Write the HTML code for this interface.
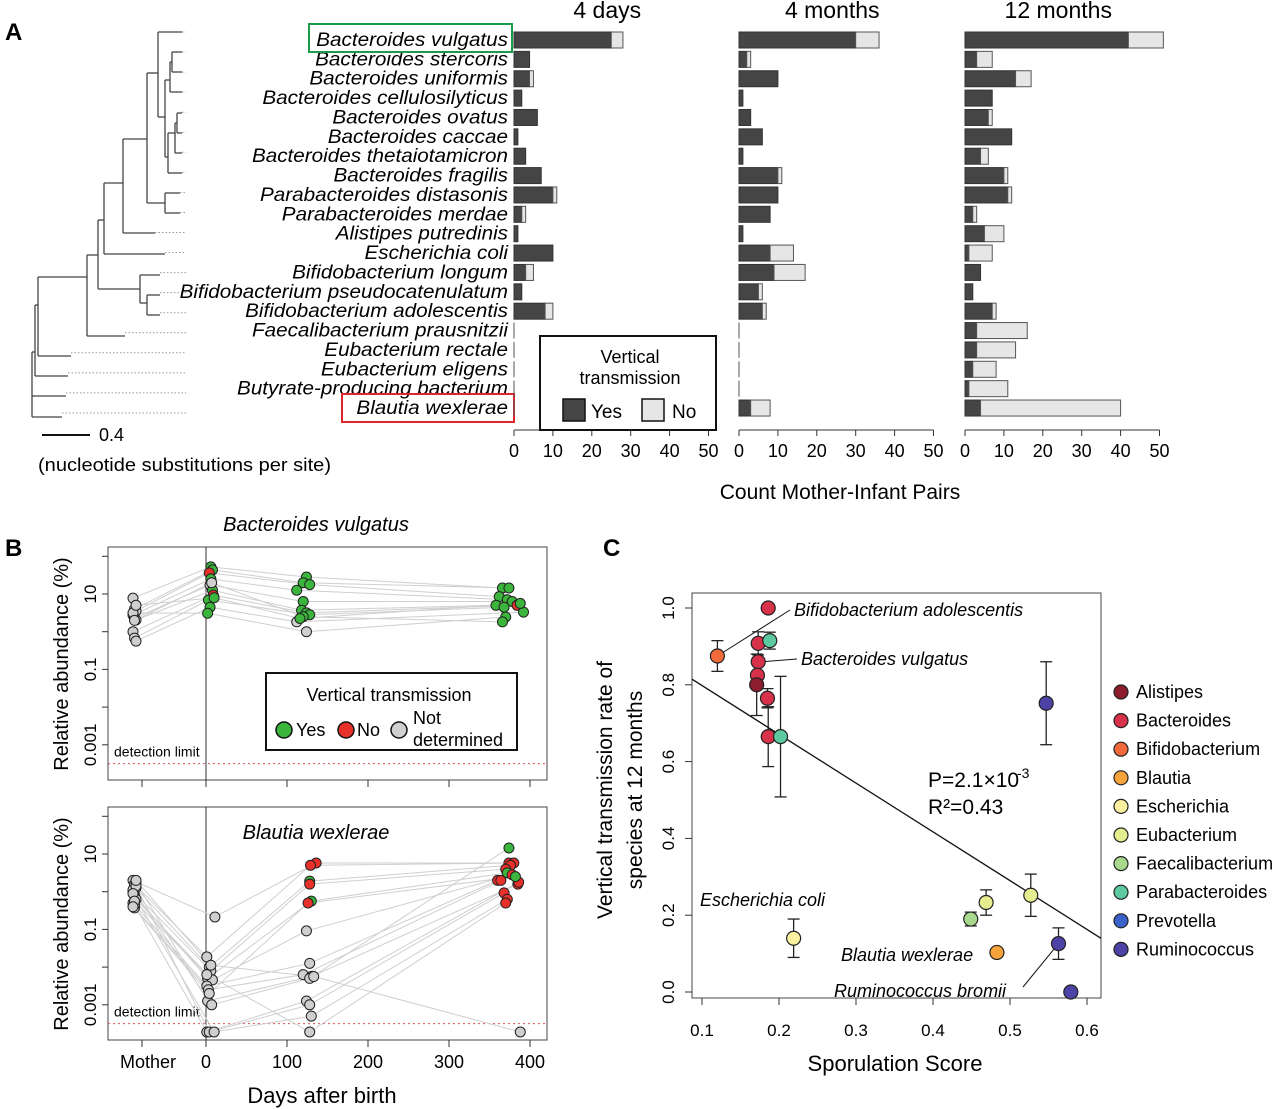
<!DOCTYPE html>
<html><head><meta charset="utf-8"><style>
html,body{margin:0;padding:0;background:#fff}
svg{display:block;font-family:"Liberation Sans",Arial,sans-serif}
</style></head><body>
<svg id="fig" width="1280" height="1109" viewBox="0 0 1280 1109" xmlns="http://www.w3.org/2000/svg">
<g id="panelA"></g>
<g id="panelB"></g>
<g id="panelC"></g>
</svg>
<script>
// ---------- Panel A data ----------
const species = ["Bacteroides vulgatus","Bacteroides stercoris","Bacteroides uniformis","Bacteroides cellulosilyticus","Bacteroides ovatus","Bacteroides caccae","Bacteroides thetaiotamicron","Bacteroides fragilis","Parabacteroides distasonis","Parabacteroides merdae","Alistipes putredinis","Escherichia coli","Bifidobacterium longum","Bifidobacterium pseudocatenulatum","Bifidobacterium adolescentis","Faecalibacterium prausnitzii","Eubacterium rectale","Eubacterium eligens","Butyrate-producing bacterium","Blautia wexlerae"];
const yes4d  = [25,4,4,2,6,1,3,7,10,2,1,10,3,2,8,0,0,0,0,0];
const tot4d  = [28,4,5,2,6,1,3,7,11,3,1,10,5,2,10,0,0,0,0,0];
const yes4m  = [30,2,10,1,3,6,1,10,10,8,1,8,9,5,6,0,0,0,0,3];
const tot4m  = [36,3,10,1,3,6,1,11,10,8,1,14,17,6,7,0,0,0,0,8];
const yes12m = [42,3,13,7,6,12,4,10,11,2,5,1,4,2,7,3,3,2,1,4];
const tot12m = [51,7,17,7,7,12,6,11,12,3,10,7,4,2,8,16,13,8,11,40];
const countTicks = [0,10,20,30,40,50];
const panelTitles = ["4 days","4 months","12 months"];

// ---------- Panel B data ----------
const bTop_mother = [0.89,0.6,0.55,0.44,0.36,0.31,0.0,-0.17,-0.25,0.5,0.3,0.7];
const bTop_d0Days = [6,8,4,6,5,8,9,3,5,2,7,10];
const bTop_d0 = [1.72,1.64,1.56,1.4,1.24,1.1,0.97,0.84,0.65,0.49,1.3,0.9];
const bTop_d0Status = ["y","y","n","y","g","y","n","y","y","y","g","y"];
const bTop_d120Days = [124,120,128,112,120,118,124,128,112,124,120,116];
const bTop_d120 = [1.45,1.3,1.25,1.1,0.8,0.57,0.5,0.45,0.26,0.0,0.4,0.35];
const bTop_d120Status = ["y","y","y","y","y","y","y","y","g","g","y","y"];
const bTop_d370Days = [366,374,362,372,378,358,384,368,392,370,366,388];
const bTop_d370 = [1.16,1.16,0.93,0.85,0.8,0.7,0.7,0.65,0.52,0.39,0.26,0.75];
const bTop_d370Status = ["y","y","y","y","y","y","n","y","y","y","y","y"];

const bBot_mother = [0.3,0.2,0.1,0.0,-0.1,-0.2,-0.3,-0.43,0.25,0.05,-0.35,0.15,-0.05,-0.25,0.3,-0.4];
const bBot_d0Days = [11,1,4,6,2,8,1,3,2,7,1,4,10,1,6,4];
const bBot_d0 = [-0.67,-1.73,-2.0,-2.1,-2.3,-2.34,-2.5,-2.6,-2.9,-3.0,-3.72,-3.72,-3.72,-2.2,-1.95,-2.7];
const bBot_d120Days = [136,129,128,128,130,124,128,120,130,128,124,128,130,128,133,126];
const bBot_d120 = [0.76,0.7,0.28,0.2,-0.25,-1.04,-1.9,-2.2,-2.25,-2.3,-2.9,-3.0,-3.3,-3.72,-2.25,-0.3];
const bBot_d120Status = ["n","n","y","n","y","g","g","g","g","g","g","g","g","g","g","n"];
const bBot_d370Days = [374,380,376,370,372,378,360,364,385,374,386,368,372,370,388,382];
const bBot_d370 = [0.76,0.76,0.7,0.6,0.5,0.45,0.3,0.3,0.2,1.16,0.25,-0.03,-0.2,-0.3,-3.72,0.4];
const bBot_d370Status = ["n","n","n","n","y","n","n","n","n","y","n","n","n","n","g","y"];
const dayTicks = [0,100,200,300,400];
const logTicks = [1,-1,-3];
const logTickLabels = ["10","0.1","0.001"];

// ---------- Panel C data ----------
const cGenus = ["Bifidobacterium","Bacteroides","Bacteroides","Parabacteroides","Bacteroides","Bacteroides","Alistipes","Bacteroides","Bacteroides","Parabacteroides","Escherichia","Faecalibacterium","Eubacterium","Eubacterium","Blautia","Ruminococcus","Ruminococcus","Ruminococcus"];
const cSpor = [0.12,0.186,0.173,0.188,0.173,0.172,0.171,0.185,0.186,0.202,0.219,0.449,0.469,0.527,0.483,0.547,0.563,0.579];
const cRate = [0.875,1.0,0.908,0.915,0.86,0.825,0.80,0.765,0.665,0.665,0.14,0.19,0.233,0.252,0.103,0.752,0.126,0.0];
const cErr  = [0.04,0,0.03,0.022,0,0,0.08,0.025,0.078,0.157,0.05,0.018,0.033,0.055,0,0.108,0.041,0];
const cXTicks = [0.1,0.2,0.3,0.4,0.5,0.6];
const cYTicks = [0.0,0.2,0.4,0.6,0.8,1.0];
const legendGenera = ["Alistipes","Bacteroides","Bifidobacterium","Blautia","Escherichia","Eubacterium","Faecalibacterium","Parabacteroides","Prevotella","Ruminococcus"];
const legendColors = ["#8c1d2c","#d8324a","#f06a3b","#f5a33a","#fbf0a0","#e4ed8f","#a8d88b","#5cc9a0","#3b62c9","#4d43a6"];
const fitSlope = -1.27, fitIntercept = 0.925;

const NS="http://www.w3.org/2000/svg";
function el(parent,tag,attrs,text){const e=document.createElementNS(NS,tag);for(const k in attrs)e.setAttribute(k,attrs[k]);if(text!==undefined)e.textContent=text;parent.appendChild(e);return e;}

// ================= Panel A =================
const A=document.getElementById('panelA');
let t=el(A,'text',{x:5,y:40,'font-size':24,'font-weight':'bold'},'A');

const rowY=i=>40+i*19.37;
const leafY=i=>32+i*20.05;
const tree=el(A,'g',{stroke:'#444','stroke-width':1.3,fill:'none'});

const segs=[
 [32,352,32,417],[32,417,62,417],[32,396,66,396],[32,352,35,352],
 [35,305,35,376],[35,376,68,376],[35,305,38,305],
 [38,277,38,356],[38,356,71,356],[38,277,87,277],
 [87,255,87,336],[87,336,125,336],[87,255,98,255],
 [98,220,98,289],[98,289,140,289],[140,275,140,303],[140,275,160,275],[140,303,147,303],[147,295,147,315],[147,295,160,295],[147,315,160,315],
 [98,220,104,220],[104,183,104,254],[104,254,165,254],[104,183,123,183],
 [123,139,123,233],[123,233,155,233],[123,139,147,139],
 [147,73,147,203],[147,203,165,203],[165,193,165,213],[165,193,180,193],[165,213,180,213],
 [147,73,158,73],[158,32,158,117],[158,32,182,32],[158,117,165,117],
 [165,80,165,157],[165,80,170,80],[170,62,170,92],[170,92,182,92],[170,62,172,62],[172,52,172,72],[172,52,182,52],[172,72,182,72],
 [165,157,168,157],[168,133,168,173],[168,173,182,173],[168,133,175,133],[175,123,175,153],[175,153,182,153],[175,123,177,123],[177,113,177,133],[177,113,182,113],[177,133,182,133]
];
segs.forEach(s=>el(tree,'line',{x1:s[0],y1:s[1],x2:s[2],y2:s[3]}));
const leafEnds=[182,182,182,182,182,182,182,182,180,180,155,165,160,160,160,125,71,68,66,62];
const dots=el(A,'g',{stroke:'#999','stroke-width':1,'stroke-dasharray':'1.5,2'});
leafEnds.forEach((x,i)=>el(dots,'line',{x1:x,y1:leafY(i),x2:186,y2:leafY(i)}));
el(A,'line',{x1:42,y1:435,x2:90,y2:435,stroke:'#111','stroke-width':2});
el(A,'text',{x:99,y:441,'font-size':18},'0.4');
el(A,'text',{x:38,y:471,'font-size':18,textLength:293,lengthAdjust:'spacingAndGlyphs'},'(nucleotide substitutions per site)');
species.forEach((s,i)=>{
  const tx=el(A,'text',{x:508,y:rowY(i)+6,'font-size':19.5,'font-style':'italic','text-anchor':'end',transform:`translate(508,0) scale(1.06,1) translate(-508,0)`},s);
  
});
el(A,'rect',{x:309,y:24,width:203,height:28,fill:'none',stroke:'#1a9a4a','stroke-width':2});
el(A,'rect',{x:342,y:394,width:172,height:28,fill:'none',stroke:'#e0262a','stroke-width':2});
const bx0=[514,739,965], bpu=3.89;
const yesArr=[yes4d,yes4m,yes12m], totArr=[tot4d,tot4m,tot12m];
for(let p=0;p<3;p++){
  const g=el(A,'g',{});
  
  const xs=v=>bx0[p]+v*bpu;
  el(g,'text',{x:xs(25)-4,y:18,'font-size':23,'text-anchor':'middle'},panelTitles[p]);
  species.forEach((s,i)=>{
    const y=rowY(i)-8;
    const tot=totArr[p][i], yv=yesArr[p][i];
    if(tot===0){el(g,'line',{x1:xs(0),y1:y,x2:xs(0),y2:y+16,stroke:'#555','stroke-width':1});return;}
    const r1=el(g,'rect',{x:xs(0),y:y,width:yv*bpu,height:16,fill:'#454545',stroke:'#333','stroke-width':1});
    
    if(tot>yv){const r2=el(g,'rect',{x:xs(yv),y:y,width:(tot-yv)*bpu,height:16,fill:'#e6e6e6',stroke:'#555','stroke-width':1});
      }
  });
  el(g,'line',{x1:xs(0),y1:430,x2:xs(50),y2:430,stroke:'#333'});
  countTicks.forEach(v=>{el(g,'line',{x1:xs(v),y1:430,x2:xs(v),y2:436,stroke:'#333'});
    el(g,'text',{x:xs(v),y:457,'font-size':18,'text-anchor':'middle'},String(v));});
}
el(A,'text',{x:840,y:499,'font-size':21,'text-anchor':'middle'},'Count Mother-Infant Pairs');
const lgA=el(A,'g',{});
el(lgA,'rect',{x:540,y:336,width:176,height:94,fill:'#fff',stroke:'#111','stroke-width':2});
el(lgA,'text',{x:630,y:363,'font-size':18,'text-anchor':'middle'},'Vertical');
el(lgA,'text',{x:630,y:384,'font-size':18,'text-anchor':'middle'},'transmission');
el(lgA,'rect',{x:563,y:399,width:22,height:22,fill:'#454545',stroke:'#111','stroke-width':1.5});
el(lgA,'text',{x:591,y:418,'font-size':19},'Yes');
el(lgA,'rect',{x:642,y:399,width:22,height:22,fill:'#e6e6e6',stroke:'#111','stroke-width':1.5});
el(lgA,'text',{x:672,y:418,'font-size':19},'No');

// ================= Panel B =================
const B=document.getElementById('panelB');
el(B,'text',{x:5,y:556,'font-size':24,'font-weight':'bold'},'B');
const statusColor={y:'#3cb53c',n:'#e8302a',g:'#cfcfcf'};
const dayX=d=>206+d*0.81;
function drawB(top,title,italicInside,mother,d0d,d0,d0s,d120d,d120,d120s,d370d,d370,d370s,name){
  const y10=top+47; const yL=v=>y10-(v-1)*37.7;
  const g=el(B,'g',{});
  const bottom=top+233;
  el(g,'rect',{x:108,y:top,width:439,height:233,fill:'none',stroke:'#444','stroke-width':1});
  el(g,'line',{x1:206,y1:top,x2:206,y2:bottom,stroke:'#333'});
  el(g,'line',{x1:108,y1:yL(-3.5),x2:547,y2:yL(-3.5),stroke:'#e05050','stroke-dasharray':'2,3'});
  el(g,'text',{x:114,y:yL(-3.5)-7,'font-size':14},'detection limit');
  for(let k=2;k>=-3;k--){el(g,'line',{x1:102,y1:yL(k),x2:108,y2:yL(k),stroke:'#333'});}
  logTicks.forEach((v,i)=>{el(g,'text',{transform:`translate(96,${yL(v)}) rotate(-90)`,'font-size':17,'text-anchor':'middle'},logTickLabels[i]);});
  el(g,'text',{transform:`translate(68,${top+117}) rotate(-90)`,'font-size':20,'text-anchor':'middle'},'Relative abundance (%)');
  [142].concat(dayTicks.map(dayX)).forEach(x=>el(g,'line',{x1:x,y1:bottom,x2:x,y2:bottom+7,stroke:'#333'}));
  if(italicInside) el(g,'text',{x:316,y:top+32,'font-size':20,'font-style':'italic','text-anchor':'middle'},title);
  const lines=el(g,'g',{stroke:'#cfcfcf','stroke-width':1,fill:'none'});
  const pts=el(g,'g',{stroke:'#222','stroke-width':1});
  mother.forEach((m,i)=>{
    const mx=133+(i%3)*1.5;
    const p=[[mx,yL(m)],[dayX(d0d[i]),yL(d0[i])],[dayX(d120d[i]),yL(d120[i])],[dayX(d370d[i]),yL(d370[i])]];
    el(lines,'polyline',{points:p.map(q=>q.join(',')).join(' ')});
  });
  const dot=(x,y,c)=>{const c1=el(pts,'circle',{cx:x,cy:y,r:5,fill:c});};
  mother.forEach((m,i)=>dot(133+(i%3)*1.5,yL(m),statusColor.g));
  d0.forEach((v,i)=>dot(dayX(d0d[i]),yL(v),statusColor[d0s?d0s[i]:'g']));
  d120.forEach((v,i)=>dot(dayX(d120d[i]),yL(v),statusColor[d120s[i]]));
  d370.forEach((v,i)=>dot(dayX(d370d[i]),yL(v),statusColor[d370s[i]]));
}
el(B,'text',{x:316,y:531,'font-size':20,'font-style':'italic','text-anchor':'middle'},'Bacteroides vulgatus');
drawB(547,'Bacteroides vulgatus',false,bTop_mother,bTop_d0Days,bTop_d0,bTop_d0Status,bTop_d120Days,bTop_d120,bTop_d120Status,bTop_d370Days,bTop_d370,bTop_d370Status,'plot-bacteroides-vulgatus');
drawB(807,'Blautia wexlerae',true,bBot_mother,bBot_d0Days,bBot_d0,null,bBot_d120Days,bBot_d120,bBot_d120Status,bBot_d370Days,bBot_d370,bBot_d370Status,'plot-blautia-wexlerae');
el(B,'text',{x:148,y:1068,'font-size':18,'text-anchor':'middle'},'Mother');
dayTicks.forEach(d=>el(B,'text',{x:dayX(d),y:1068,'font-size':18,'text-anchor':'middle'},String(d)));
el(B,'text',{x:322,y:1103,'font-size':22,'text-anchor':'middle'},'Days after birth');
const lgB=el(B,'g',{});
el(lgB,'rect',{x:266,y:673,width:251,height:77,fill:'#fff',stroke:'#111','stroke-width':2});
el(lgB,'text',{x:389,y:701,'font-size':18,'text-anchor':'middle'},'Vertical transmission');
el(lgB,'circle',{cx:284,cy:730,r:8,fill:'#3cb53c',stroke:'#111','stroke-width':1.5});
el(lgB,'text',{x:296,y:736,'font-size':18},'Yes');
el(lgB,'circle',{cx:346,cy:730,r:8,fill:'#e8302a',stroke:'#111','stroke-width':1.5});
el(lgB,'text',{x:357,y:736,'font-size':18},'No');
el(lgB,'circle',{cx:399,cy:730,r:8,fill:'#cfcfcf',stroke:'#111','stroke-width':1.5});
el(lgB,'text',{x:413,y:724,'font-size':18},'Not');
el(lgB,'text',{x:413,y:746,'font-size':18},'determined');

// ================= Panel C =================
const C=document.getElementById('panelC');
el(C,'text',{x:603,y:556,'font-size':24,'font-weight':'bold'},'C');
const cx=v=>702+(v-0.1)*770, cy=v=>992-v*384;
const gC=el(C,'g',{});
el(gC,'rect',{x:692,y:593,width:409,height:405,fill:'none',stroke:'#444'});
cXTicks.forEach(v=>{el(gC,'line',{x1:cx(v),y1:998,x2:cx(v),y2:1005,stroke:'#333'});
  el(gC,'text',{x:cx(v),y:1036,'font-size':17,'text-anchor':'middle'},v.toFixed(1));});
cYTicks.forEach(v=>{el(gC,'line',{x1:685,y1:cy(v),x2:692,y2:cy(v),stroke:'#333'});
  el(gC,'text',{transform:`translate(674,${cy(v)}) rotate(-90)`,'font-size':17,'text-anchor':'middle'},v.toFixed(1));});
el(C,'text',{x:895,y:1071,'font-size':22,'text-anchor':'middle'},'Sporulation Score');
el(C,'text',{transform:'translate(612,790) rotate(-90)','font-size':21,'text-anchor':'middle'},'Vertical transmission rate of');
el(C,'text',{transform:'translate(642,790) rotate(-90)','font-size':21,'text-anchor':'middle'},'species at 12 months');
const x1f=(692-702)/770+0.1, x2f=(1101-702)/770+0.1;
const fl=el(gC,'line',{x1:692,y1:cy(fitIntercept+fitSlope*x1f),x2:1101,y2:cy(fitIntercept+fitSlope*x2f),stroke:'#111','stroke-width':1.3});

el(gC,'line',{x1:cx(cSpor[0]),y1:cy(cRate[0]),x2:790,y2:610,stroke:'#111'});
el(gC,'line',{x1:cx(cSpor[4])+4,y1:cy(cRate[4]),x2:797,y2:659,stroke:'#111'});
el(gC,'line',{x1:1023,y1:987,x2:cx(cSpor[16]),y2:cy(cRate[16]),stroke:'#111'});
cSpor.forEach((s,i)=>{
  const x=cx(s),e=cErr[i];
  if(e>0){el(gC,'line',{x1:x,y1:cy(cRate[i]+e),x2:x,y2:cy(cRate[i]-e),stroke:'#222','stroke-width':1.3});
    el(gC,'line',{x1:x-6,y1:cy(cRate[i]+e),x2:x+6,y2:cy(cRate[i]+e),stroke:'#222','stroke-width':1.3});
    el(gC,'line',{x1:x-6,y1:cy(cRate[i]-e),x2:x+6,y2:cy(cRate[i]-e),stroke:'#222','stroke-width':1.3});}
});
cSpor.forEach((s,i)=>{
  const col=legendColors[legendGenera.indexOf(cGenus[i])];
  const c1=el(gC,'circle',{cx:cx(s),cy:cy(cRate[i]),r:7,fill:col,stroke:'#222','stroke-width':1.2});
  
});
const it={'font-size':18,'font-style':'italic'};
el(C,'text',Object.assign({x:794,y:616},it),'Bifidobacterium adolescentis');
el(C,'text',Object.assign({x:801,y:665},it),'Bacteroides vulgatus');
el(C,'text',Object.assign({x:700,y:906},it),'Escherichia coli');
el(C,'text',Object.assign({x:841,y:961},it),'Blautia wexlerae');
el(C,'text',Object.assign({x:834,y:997},it),'Ruminococcus bromii');
el(C,'text',{x:928,y:787,'font-size':21},'P=2.1×10');
el(C,'text',{x:1017,y:778,'font-size':14},'-3');
el(C,'text',{x:928,y:814,'font-size':21},'R²=0.43');
const lgC=el(C,'g',{});
legendGenera.forEach((gname,i)=>{
  const y=692+i*28.6;
  el(lgC,'circle',{cx:1121,cy:y,r:7,fill:legendColors[i],stroke:'#222','stroke-width':1.2});
  el(lgC,'text',{x:1136,y:y+6,'font-size':18},gname);
});
</script>
</body></html>
